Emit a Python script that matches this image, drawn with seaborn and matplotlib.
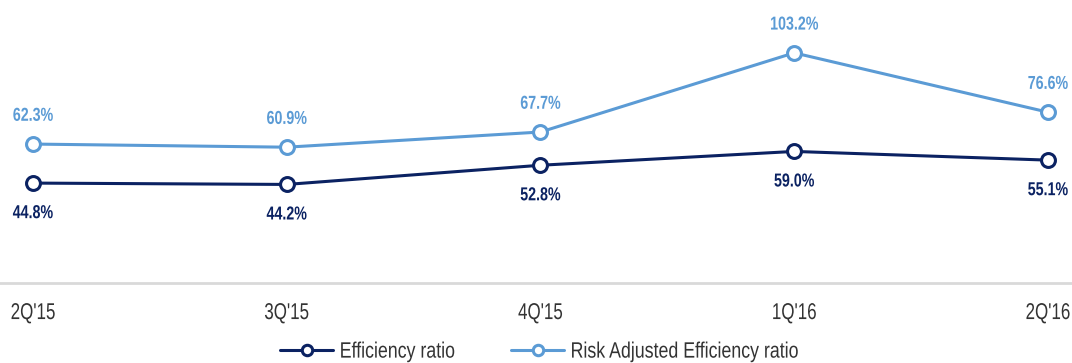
import matplotlib
matplotlib.use("Agg")
import matplotlib.pyplot as plt
import seaborn as sns
import pandas as pd
from matplotlib.patheffects import AbstractPathEffect
from matplotlib.transforms import Affine2D

quarters = ["2Q'15", "3Q'15", "4Q'15", "1Q'16", "2Q'16"]
efficiency = [44.8, 44.2, 52.8, 59.0, 55.1]
risk_adjusted = [62.3, 60.9, 67.7, 103.2, 76.6]
series_names = ["Efficiency ratio", "Risk Adjusted Efficiency ratio"]

NAVY = "#0b2262"
LIGHT = "#5b9bd5"
TEXT = "#333333"


class Condense(AbstractPathEffect):
    """Squeeze glyph outlines horizontally to get a narrow typeface look."""

    def __init__(self, sx, anchor="center"):
        super().__init__()
        self.sx = sx
        self.anchor = anchor

    def draw_path(self, renderer, gc, tpath, affine, rgbFace=None):
        ext = affine.transform_path(tpath).get_extents()
        x0 = ext.x0 if self.anchor == "left" else 0.5 * (ext.x0 + ext.x1)
        squeeze = Affine2D().translate(-x0, 0).scale(self.sx, 1).translate(x0, 0)
        renderer.draw_path(gc, tpath, affine + squeeze, rgbFace)


sns.set_theme(style="white")
plt.rcParams["font.family"] = ["Liberation Sans", "DejaVu Sans"]

df = pd.DataFrame({
    "quarter": quarters * 2,
    "value": efficiency + risk_adjusted,
    "series": [series_names[0]] * len(quarters) + [series_names[1]] * len(quarters),
})

fig = plt.figure(figsize=(10.72, 3.63), dpi=100)
ax = fig.add_axes([0, 80 / 363, 1, 283 / 363])

colors = {series_names[0]: NAVY, series_names[1]: LIGHT}
for name in series_names:
    sub = df[df["series"] == name]
    sns.lineplot(data=sub, x="quarter", y="value", ax=ax, sort=False,
                 color=colors[name], linewidth=2.2, marker="o", markersize=10,
                 markerfacecolor="white", markeredgecolor=colors[name],
                 markeredgewidth=2.2, label=name, legend=False)

# value labels: efficiency below, risk-adjusted above
narrow_c = [Condense(0.76)]
for i, v in enumerate(efficiency):
    ax.annotate(f"{v:.1f}%", (i, v), xytext=(0, -22), textcoords="offset points",
                ha="center", va="center", fontsize=13.5, fontweight="bold",
                color=NAVY, path_effects=narrow_c)
for i, v in enumerate(risk_adjusted):
    ax.annotate(f"{v:.1f}%", (i, v), xytext=(0, 20), textcoords="offset points",
                ha="center", va="center", fontsize=13.5, fontweight="bold",
                color=LIGHT, path_effects=narrow_c)

ax.set_xlim(-0.13, 4.095)
ax.set_ylim(0, 126.9)
ax.set_xlabel("")
ax.set_ylabel("")
ax.set_yticks([])
ax.set_xticks(range(len(quarters)))
ax.set_xticklabels(quarters, fontsize=16.5, color=TEXT)
for lbl in ax.get_xticklabels():
    lbl.set_path_effects([Condense(0.74)])
ax.tick_params(axis="x", length=0, pad=13)
for s in ["top", "left", "right"]:
    ax.spines[s].set_visible(False)
ax.spines["bottom"].set_color("#d9d9d9")
ax.spines["bottom"].set_linewidth(2)

handles, labels = ax.get_legend_handles_labels()
leg = fig.legend(handles, labels, loc="center left", bbox_to_anchor=(280 / 1072, 0.03),
                 ncol=2, frameon=False, fontsize=16, handlelength=2.4,
                 handletextpad=0.27, columnspacing=1.2, labelcolor=TEXT,
                 borderpad=0, borderaxespad=0, markerscale=0.75)
for t in leg.get_texts():
    t.set_path_effects([Condense(0.8, anchor="left")])

fig.savefig("out.png", dpi=100)
